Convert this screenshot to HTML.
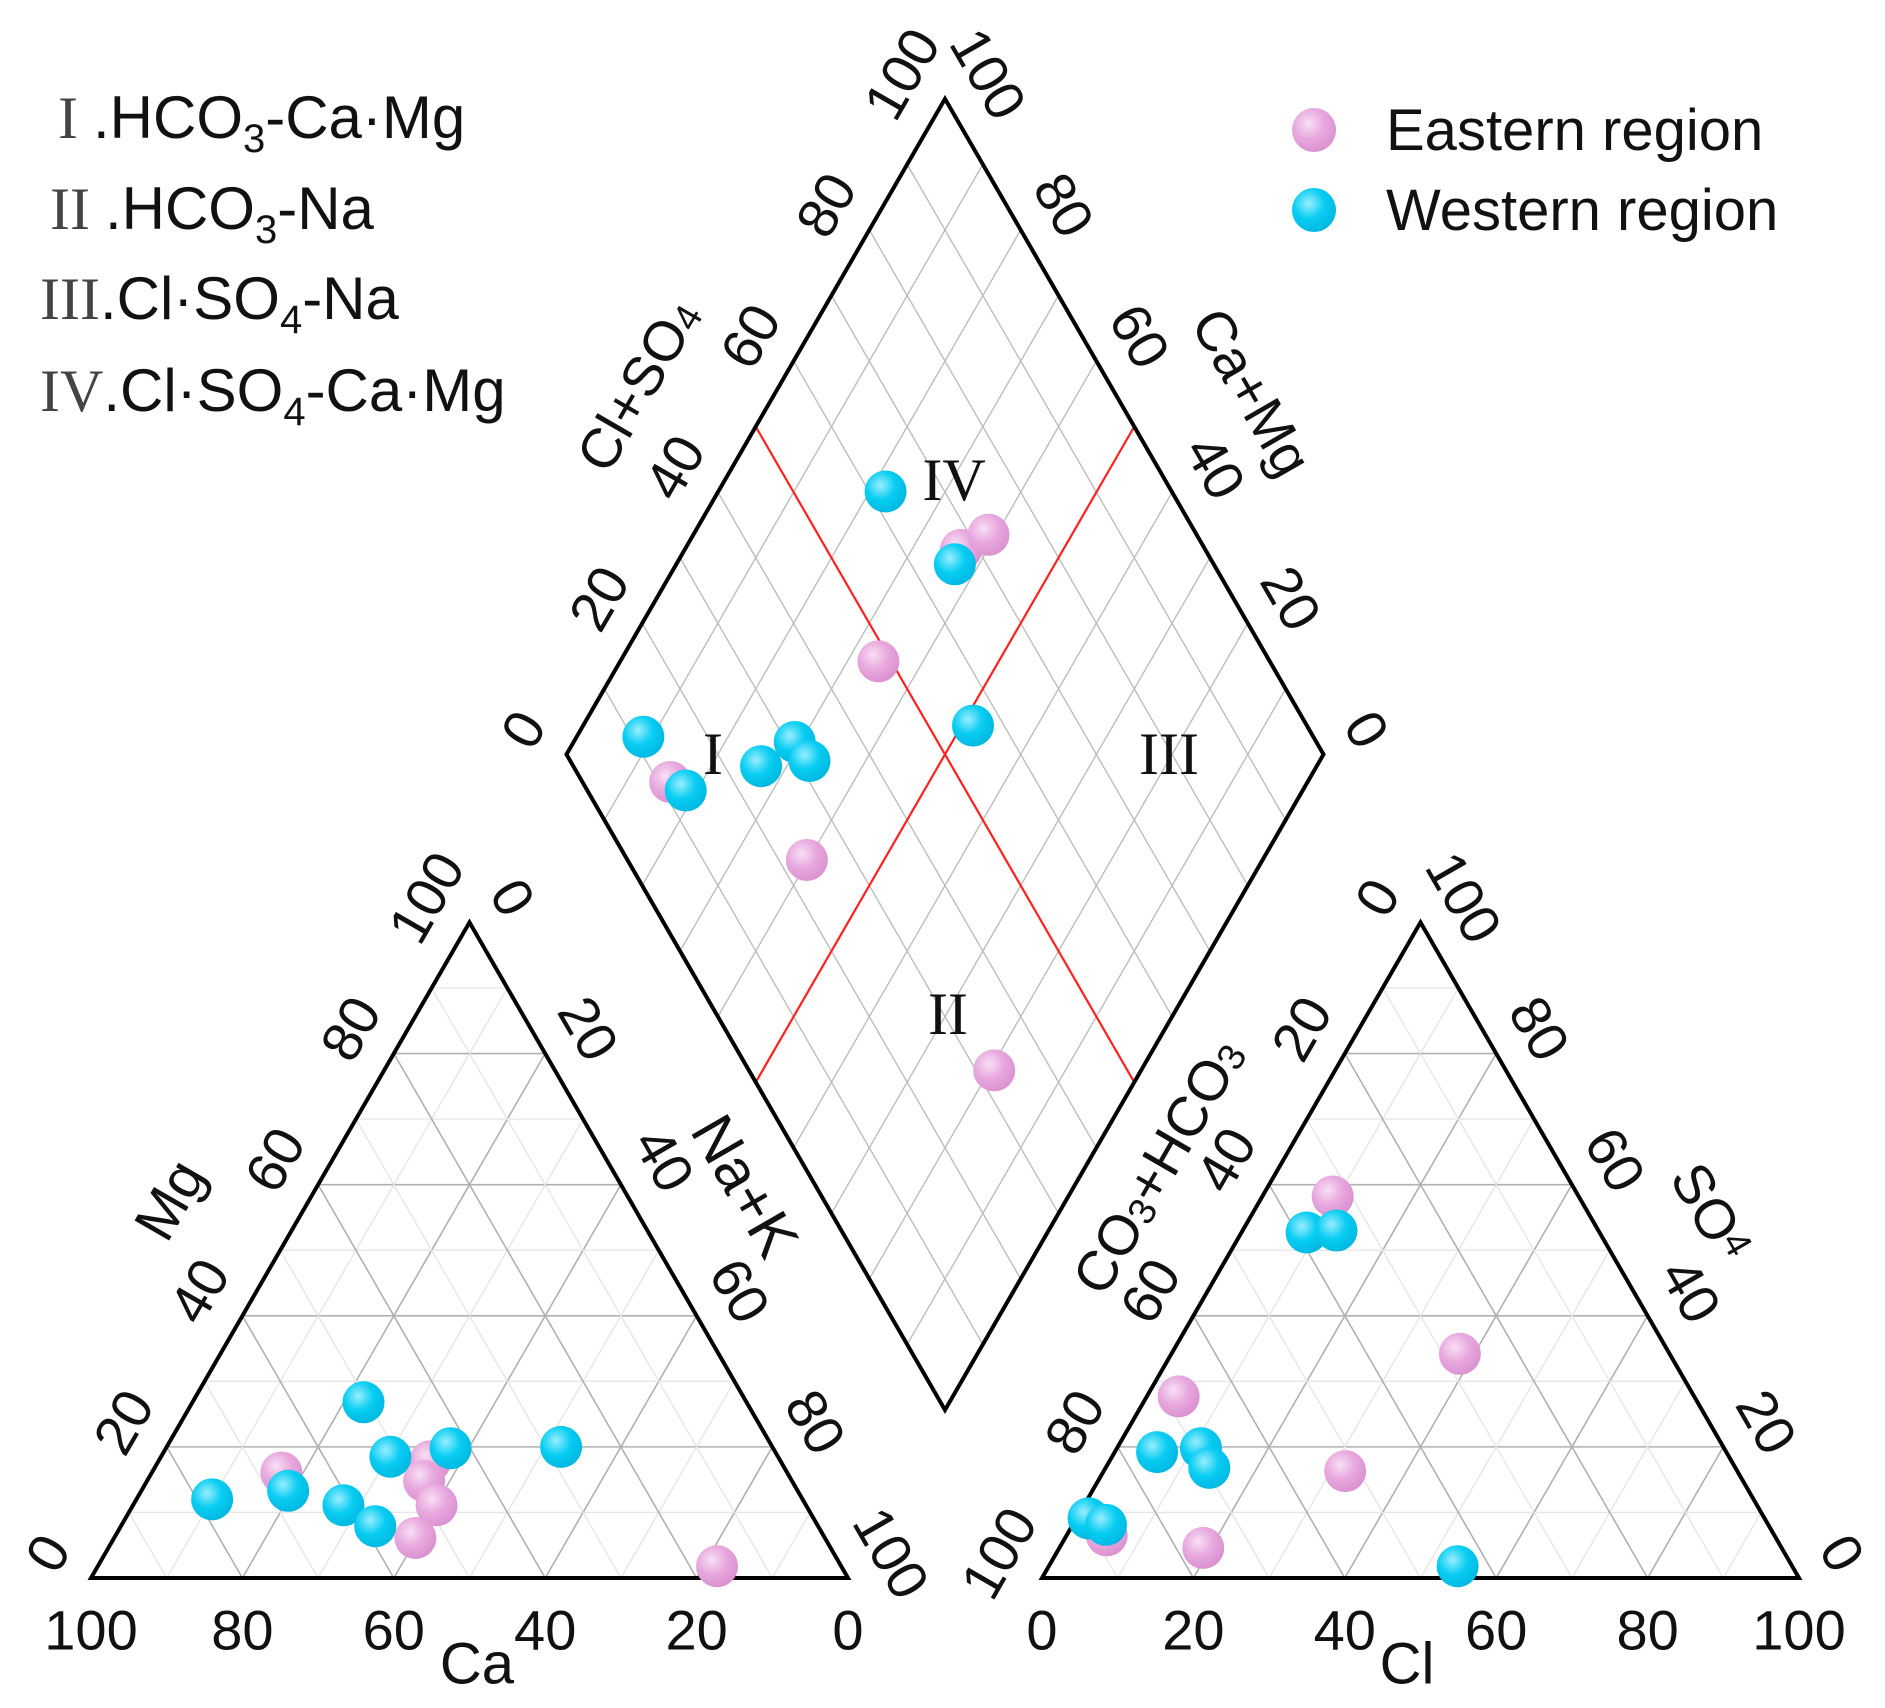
<!DOCTYPE html>
<html><head><meta charset="utf-8"><style>
html,body{margin:0;padding:0;background:#fff}
svg{display:block}
text{font-family:"Liberation Sans",sans-serif;fill:#111}
.rom{font-family:"Liberation Serif",serif}
</style></head><body>
<svg id="chart" width="1885" height="1708" viewBox="0 0 1885 1708" xmlns="http://www.w3.org/2000/svg">
<defs>
<radialGradient id="gp" cx="0.38" cy="0.35" r="0.7"><stop offset="0" stop-color="#f8e0f4"/><stop offset="0.5" stop-color="#e8a8de"/><stop offset="1" stop-color="#d98fcf"/></radialGradient>
<radialGradient id="gb" cx="0.38" cy="0.35" r="0.7"><stop offset="0" stop-color="#9aeeff"/><stop offset="0.5" stop-color="#08cdf2"/><stop offset="1" stop-color="#00b6e0"/></radialGradient>
</defs>
<g id="grid"></g>
<g id="frames"></g>
<g id="labels"></g>
<g id="pts"></g>
<g font-size="60">
<text x="58" y="138"><tspan font-family="Liberation Serif" fill="#444">I </tspan>.HCO<tspan font-size="40" dy="14">3</tspan><tspan dy="-14">-Ca·Mg</tspan></text>
<text x="50" y="229"><tspan font-family="Liberation Serif" fill="#444">II </tspan>.HCO<tspan font-size="40" dy="14">3</tspan><tspan dy="-14">-Na</tspan></text>
<text x="40" y="319"><tspan font-family="Liberation Serif" fill="#444">III</tspan>.Cl·SO<tspan font-size="40" dy="14">4</tspan><tspan dy="-14">-Na</tspan></text>
<text x="40" y="411"><tspan font-family="Liberation Serif" fill="#444">IV</tspan>.Cl·SO<tspan font-size="40" dy="14">4</tspan><tspan dy="-14">-Ca·Mg</tspan></text>
</g>
<g font-size="58">
<circle cx="1314" cy="130" r="22" fill="url(#gp)"/>
<text x="1386" y="150">Eastern region</text>
<circle cx="1314" cy="210" r="22" fill="url(#gb)"/>
<text x="1386" y="230">Western region</text>
</g>
<g font-size="60">
<text class="rom" fill="#333" x="954" y="500" text-anchor="middle">IV</text>
<text class="rom" fill="#333" x="713" y="774" text-anchor="middle">I</text>
<text class="rom" fill="#333" x="1169" y="774" text-anchor="middle">III</text>
<text class="rom" fill="#333" x="948" y="1034" text-anchor="middle">II</text>
</g>
</svg>
<script>
// ---- data ----
// Cation triangle: Mg %, Na+K %
const catEastMg=[16.1,17.8,14.8,11.1,6.1,1.8];
const catEastNa=[17.1,35.9,36.6,40.1,39.8,81.8];
const catWestMg=[12.0,13.3,11.1,7.9,26.8,18.5,19.8,20.0];
const catWestNa=[10.0,19.4,27.8,33.6,22.6,30.3,37.6,52.1];
// Anion triangle: SO4 %, Cl %
const anEastSO4=[58.2,34.2,27.7,16.3,4.6,6.5];
const anEastCl=[9.3,38.1,4.2,31.9,19.0,5.3];
const anWestSO4=[52.7,53.0,19.2,19.8,16.8,9.1,8.1,1.8];
const anWestCl=[8.6,12.4,5.6,11.1,13.7,1.6,4.4,54.0];
// Diamond: Cl+SO4 %, Ca+Mg %
const dEastA=[67.7,72.5,48.3,11.6,23.7,32.4];
const dEastC=[63.5,61.0,65.9,84.2,60.2,19.4];
const dWestA=[62.2,65.8,11.5,13.0,24.8,31.1,31.6,55.9];
const dWestC=[77.9,63.2,91.2,81.5,73.4,70.8,67.4,48.5];
const tickVals=[0,20,40,60,80,100];

const NS='http://www.w3.org/2000/svg';
const L=757,H=L*0.8660254,BASE=1578;
const LX=91,RX=1042,DBX=945,DBY=BASE-(RX-LX-L)*0.8660254;
function mk(tag,attrs,parent){const e=document.createElementNS(NS,tag);for(const k in attrs)e.setAttribute(k,attrs[k]);parent.appendChild(e);return e;}
const grid=document.getElementById('grid'),frames=document.getElementById('frames'),labels=document.getElementById('labels'),pts=document.getElementById('pts');
function tri(ox,n,m){return [ox+(n+m/2)/100*L, BASE-m/100*H];}
function dia(a,c){return [DBX+(a-c)/100*L/2, DBY-(a+c)/100*H];}
function line(p,q,st,w,parent,name){const e=mk('line',{x1:p[0],y1:p[1],x2:q[0],y2:q[1],stroke:st,'stroke-width':w},parent);

}
function gridTri(ox){for(let v=10;v<100;v+=10){const c=v%20==0?'#b0b0b0':'#e6e6e6',w=v%20==0?1.6:1.4;
line(tri(ox,0,v),tri(ox,100-v,v),c,w,grid,'grid-line');
line(tri(ox,v,0),tri(ox,0,v),c,w,grid,'grid-line');
line(tri(ox,v,0),tri(ox,v,100-v),c,w,grid,'grid-line');}}
gridTri(LX);gridTri(RX);
for(let v=10;v<100;v+=10){line(dia(v,0),dia(v,100),'#bdbdbd',1.4,grid,'grid-line');line(dia(0,v),dia(100,v),'#bdbdbd',1.4,grid,'grid-line');}
line(dia(50,0),dia(50,100),'#ff2020',2.2,grid,'divider-line');
line(dia(0,50),dia(100,50),'#ff2020',2.2,grid,'divider-line');
function poly(ps,name){const e=mk('polygon',{points:ps.map(p=>p.join(',')).join(' '),fill:'none',stroke:'#000','stroke-width':4,'stroke-linejoin':'miter'},frames);

}
poly([tri(LX,0,0),tri(LX,100,0),tri(LX,0,100)],'cation-triangle');
poly([tri(RX,0,0),tri(RX,100,0),tri(RX,0,100)],'anion-triangle');
poly([dia(0,0),dia(100,0),dia(100,100),dia(0,100)],'diamond');
function lab(p,dx,dy,rot,txt,size,name){const x=p[0]+dx,y=p[1]+dy;
const e=mk('text',{x:x,y:y,'font-size':size,'text-anchor':'middle','dominant-baseline':'central',transform:`rotate(${rot} ${x} ${y})`},labels);
e.textContent=txt;

return e;}
const OFF=50,NX=0.866*OFF,NY=0.5*OFF,TS=56;
tickVals.forEach(v=>{
 lab(tri(LX,100-v,0),0,52,0,String(v),TS,'ca-tick');
 lab(tri(LX,0,v),-NX,-NY,-60,String(v),TS,'mg-tick');
 lab(tri(LX,v,100-v),NX,-NY,60,String(v),TS,'nak-tick');
 lab(tri(RX,v,0),0,52,0,String(v),TS,'cl-tick');
 lab(tri(RX,100-v,v),NX,-NY,60,String(v),TS,'so4-tick');
 lab(tri(RX,0,100-v),-NX,-NY,-60,String(v),TS,'co3-tick');
 lab(dia(v,100),-NX,-NY,-60,String(v),TS,'clso4-tick');
 lab(dia(100,v),NX,-NY,60,String(v),TS,'camg-tick');
});
lab([477,1664],0,0,0,'Ca',58,'ca-axis-title');
lab([1407,1664],0,0,0,'Cl',58,'cl-axis-title');
lab([170,1200],0,0,-60,'Mg',58,'mg-axis-title');
lab([745,1186],0,0,60,'Na+K',60,'nak-axis-title');
let t=lab([638,385],0,0,-60,'',56,'clso4-axis-title');t.innerHTML='Cl+SO<tspan font-size="38" dy="10">4</tspan>';
lab([1252,392],0,0,60,'Ca+Mg',56,'camg-axis-title');
t=lab([1158,1166],0,0,-60,'',56,'co3hco3-axis-title');t.innerHTML='CO<tspan font-size="38" dy="10">3</tspan><tspan dy="-10">+HCO</tspan><tspan font-size="38" dy="10">3</tspan>';
t=lab([1711,1212],0,0,60,'',56,'so4-axis-title');t.innerHTML='SO<tspan font-size="38" dy="-6">4</tspan>';
function dot(p,fill,name){const e=mk('circle',{cx:p[0],cy:p[1],r:21,fill:fill},pts);

}
catEastMg.forEach((m,i)=>dot(tri(LX,catEastNa[i],m),'url(#gp)','eastern-cation-point'));
catWestMg.forEach((m,i)=>dot(tri(LX,catWestNa[i],m),'url(#gb)','western-cation-point'));
anEastSO4.forEach((s,i)=>dot(tri(RX,anEastCl[i],s),'url(#gp)','eastern-anion-point'));
anWestSO4.forEach((s,i)=>dot(tri(RX,anWestCl[i],s),'url(#gb)','western-anion-point'));
dEastA.forEach((a,i)=>dot(dia(a,dEastC[i]),'url(#gp)','eastern-diamond-point'));
dWestA.forEach((a,i)=>dot(dia(a,dWestC[i]),'url(#gb)','western-diamond-point'));
</script>
</body></html>
